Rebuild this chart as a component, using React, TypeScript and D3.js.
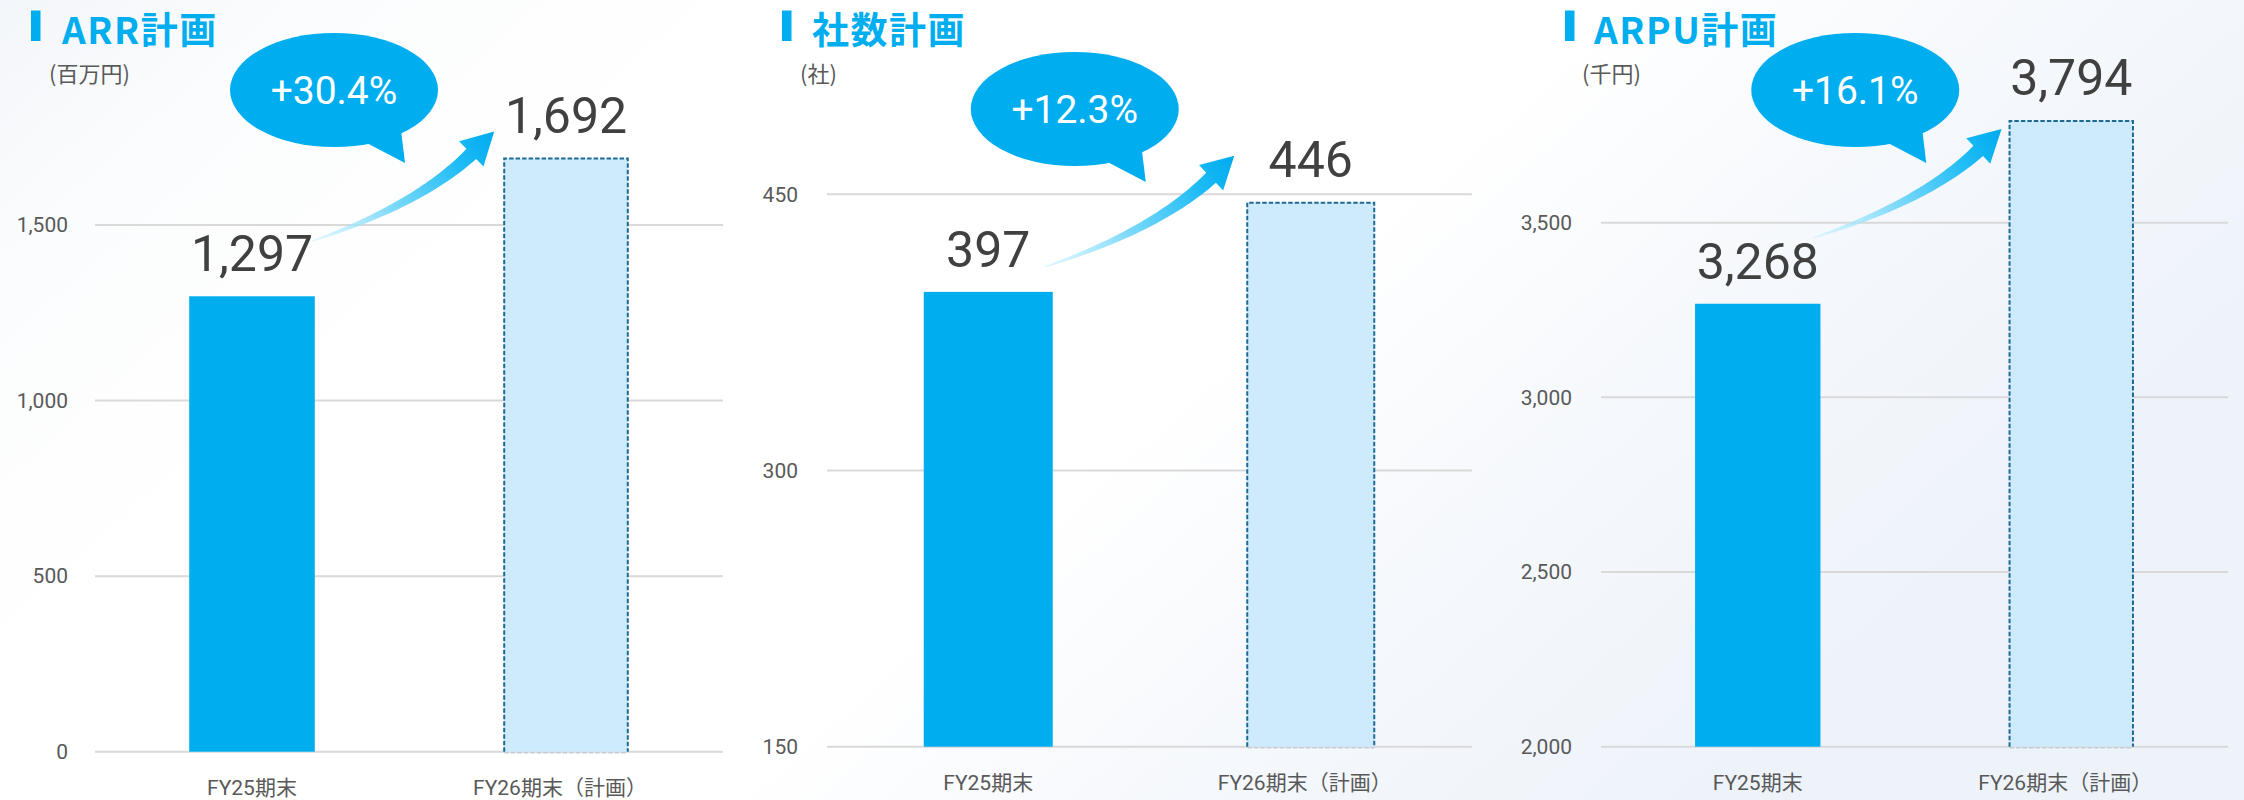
import React from 'react';
import * as d3 from 'd3';

// ---------- data ----------
const categories = ['FY25期末', 'FY26期末（計画）'];
const titles = ['ARR計画', '社数計画', 'ARPU計画'];
const units = ['(百万円)', '(社)', '(千円)'];
const arrValues = [1297, 1692];
const companyValues = [397, 446];
const arpuValues = [3268, 3794];
const arrTicks = [0, 500, 1000, 1500];
const companyTicks = [150, 300, 450];
const arpuTicks = [2000, 2500, 3000, 3500];
const growthLabels = ['+30.4%', '+12.3%', '+16.1%'];

// ---------- layout (pixels) ----------
const W = 2244;
const H = 800;
const layouts = [
  { gridL: 95, gridR: 723, y0: 751.7, yTop: 225, markerX: 31, titleX: 62, unitX: 49, tickR: 68,
    bubbleDx: 82, bubbleY: 90, arrowS: [-3, -55], arrowT: [-9, -26] },
  { gridL: 827, gridR: 1472, y0: 746.7, yTop: 194.3, markerX: 782, titleX: 812, unitX: 800, tickR: 798,
    bubbleDx: 86.5, bubbleY: 109, arrowS: [-8, -25], arrowT: [-12, -46] },
  { gridL: 1601, gridR: 2228, y0: 746.7, yTop: 222.7, markerX: 1565, titleX: 1594, unitX: 1582, tickR: 1572,
    bubbleDx: 97.5, bubbleY: 90, arrowS: [-7, -66], arrowT: [-7, 9] },
];

const CYAN = '#00AEEF';
const PLAN_FILL = '#CDEBFC';
const PLAN_STROKE = '#1E6A94';
const GRID = '#D9D9D9';
const TEXT_GRAY = '#595959';
const VALUE_GRAY = '#404040';
const NUM_FONT = "Roboto, 'Noto Sans CJK JP', sans-serif";
const JP_FONT = "'Noto Sans CJK JP', Roboto, sans-serif";
const fmt = d3.format(',');

type Pt = [number, number];

function arrowPath(S: Pt, T: Pt): string {
  const a = Math.atan2(T[1] - S[1], T[0] - S[0]);
  const a0 = a + 0.21;
  const a1 = a - 0.23;
  const headLen = 32;
  const headHalf = 17.5;
  const B: Pt = [T[0] - headLen * Math.cos(a1), T[1] - headLen * Math.sin(a1)];
  const d0: Pt = [Math.cos(a0), Math.sin(a0)];
  const d1: Pt = [Math.cos(a1), Math.sin(a1)];
  const den = d0[0] * d1[1] - d0[1] * d1[0];
  const t0 = ((B[0] - S[0]) * d1[1] - (B[1] - S[1]) * d1[0]) / den;
  const C: Pt = [S[0] + d0[0] * t0, S[1] + d0[1] * t0];
  const N = 40;
  const left: Pt[] = [];
  const right: Pt[] = [];
  for (let i = 0; i <= N; i++) {
    const t = i / N;
    const x = (1 - t) * (1 - t) * S[0] + 2 * (1 - t) * t * C[0] + t * t * B[0];
    const y = (1 - t) * (1 - t) * S[1] + 2 * (1 - t) * t * C[1] + t * t * B[1];
    const dx = 2 * (1 - t) * (C[0] - S[0]) + 2 * t * (B[0] - C[0]);
    const dy = 2 * (1 - t) * (C[1] - S[1]) + 2 * t * (B[1] - C[1]);
    const len = Math.hypot(dx, dy) || 1;
    const nx = -dy / len;
    const ny = dx / len;
    const w = 0.6 + 6.4 * Math.pow(t, 0.85);
    left.push([x + nx * w, y + ny * w]);
    right.push([x - nx * w, y - ny * w]);
  }
  const n1: Pt = [-Math.sin(a1), Math.cos(a1)];
  const hL: Pt = [B[0] + n1[0] * headHalf, B[1] + n1[1] * headHalf];
  const hR: Pt = [B[0] - n1[0] * headHalf, B[1] - n1[1] * headHalf];
  const pts: Pt[] = [...left, hL, T, hR, ...right.reverse()];
  return 'M' + pts.map((p) => `${p[0].toFixed(2)},${p[1].toFixed(2)}`).join('L') + 'Z';
}

function Panel({ idx, values, ticks }: { idx: number; values: number[]; ticks: number[] }) {
  const L = layouts[idx];
  const y = d3.scaleLinear().domain([ticks[0], ticks[ticks.length - 1]]).range([L.y0, L.yTop]);
  const x = d3.scaleBand<string>().domain(categories).range([L.gridL, L.gridR]).padding(0);
  const bw = x.bandwidth() * 0.4;
  const barX = (c: string) => (x(c) as number) + (x.bandwidth() - bw) / 2;
  const cx = (c: string) => (x(c) as number) + x.bandwidth() / 2;

  const b1R = barX(categories[0]) + bw;
  const b2L = barX(categories[1]);
  const S: Pt = [b1R + L.arrowS[0], y(values[0]) + L.arrowS[1]];
  const T: Pt = [b2L + L.arrowT[0], y(values[1]) + L.arrowT[1]];
  const bcx = cx(categories[0]) + L.bubbleDx;
  const bcy = L.bubbleY;
  const gid = `arrowGrad${idx}`;

  return (
    <g>
      <defs>
        <linearGradient id={gid} gradientUnits="userSpaceOnUse" x1={S[0]} y1={S[1]} x2={T[0]} y2={T[1]}>
          <stop offset="0" stopColor="#c9f1ff" stopOpacity="0.55" />
          <stop offset="0.4" stopColor="#7fdaf9" />
          <stop offset="0.78" stopColor="#1ebcf6" />
          <stop offset="1" stopColor="#00AAEE" />
        </linearGradient>
      </defs>
      {/* title */}
      <rect x={L.markerX} y={10.5} width={9.5} height={30.5} fill={CYAN} />
      <text x={L.titleX} y={43.5} fontFamily={JP_FONT} fontWeight={700} fontSize={37} letterSpacing={1.5} fill={CYAN}>
        {titles[idx]}
      </text>
      <text x={L.unitX} y={82} fontFamily={JP_FONT} fontSize={22} fill={TEXT_GRAY}>
        {units[idx]}
      </text>
      {/* grid + ticks */}
      {ticks.map((t) => (
        <g key={t}>
          <line x1={L.gridL} x2={L.gridR} y1={y(t)} y2={y(t)} stroke={GRID} strokeWidth={2} />
          <text x={L.tickR} y={y(t)} dy="0.35em" textAnchor="end" fontFamily={NUM_FONT} fontSize={21} fill={TEXT_GRAY}>
            {fmt(t)}
          </text>
        </g>
      ))}
      {/* bars */}
      <rect x={barX(categories[0])} y={y(values[0])} width={bw} height={L.y0 - y(values[0])} fill={CYAN} />
      <rect x={b2L + 1} y={y(values[1]) + 1} width={bw - 2} height={L.y0 - y(values[1]) - 1} fill={PLAN_FILL} />
      <path
        d={`M${b2L + 1},${L.y0}V${y(values[1]) + 1}H${b2L + bw - 1}V${L.y0}`}
        fill="none"
        stroke={PLAN_STROKE}
        strokeWidth={2}
        strokeDasharray="4.5,2"
      />
      <line x1={b2L + 1} x2={b2L + bw - 1} y1={L.y0 + 1} y2={L.y0 + 1} stroke="#c4ccd4" strokeWidth={1.6} strokeDasharray="4.5,2" />
      {/* value labels */}
      {categories.map((c, i) => (
        <text key={c} x={cx(c)} y={y(values[i]) - 25} textAnchor="middle" fontFamily={NUM_FONT} fontSize={50} fill={VALUE_GRAY}>
          {fmt(values[i])}
        </text>
      ))}
      {/* category labels */}
      {categories.map((c, i) => (
        <text key={c} x={cx(c) + (i === 1 ? -6 : 0)} y={L.y0 + 43} textAnchor="middle" fontFamily={NUM_FONT} fontSize={21} fill={TEXT_GRAY}>
          {c}
        </text>
      ))}
      {/* arrow */}
      <path d={arrowPath(S, T)} fill={`url(#${gid})`} />
      {/* bubble */}
      <ellipse cx={bcx} cy={bcy} rx={104} ry={57} fill={CYAN} />
      <path
        d={`M${bcx + 27},${bcy + 50}L${bcx + 71},${bcy + 73}L${bcx + 67},${bcy + 40}Z`}
        fill={CYAN}
      />
      <text x={bcx} y={bcy} dy="0.36em" textAnchor="middle" fontFamily={NUM_FONT} fontSize={39} fill="#ffffff">
        {growthLabels[idx]}
      </text>
    </g>
  );
}

export default function App() {
  return (
    <svg
      width={W}
      height={H}
      viewBox={`0 0 ${W} ${H}`}
      style={{ position: 'absolute', left: 0, top: 0, display: 'block' }}
    >
      <defs>
        <linearGradient id="bgGrad" x1="0" y1="0" x2="1" y2="0.4">
          <stop offset="0" stopColor="#f3f6fa" />
          <stop offset="0.12" stopColor="#fbfcfd" />
          <stop offset="0.3" stopColor="#ffffff" />
          <stop offset="0.62" stopColor="#ffffff" />
          <stop offset="0.8" stopColor="#f5f8fc" />
          <stop offset="1" stopColor="#eef3fa" />
        </linearGradient>
      </defs>
      <rect x={0} y={0} width={W} height={H} fill="url(#bgGrad)" />
      <Panel idx={0} values={arrValues} ticks={arrTicks} />
      <Panel idx={1} values={companyValues} ticks={companyTicks} />
      <Panel idx={2} values={arpuValues} ticks={arpuTicks} />
    </svg>
  );
}
